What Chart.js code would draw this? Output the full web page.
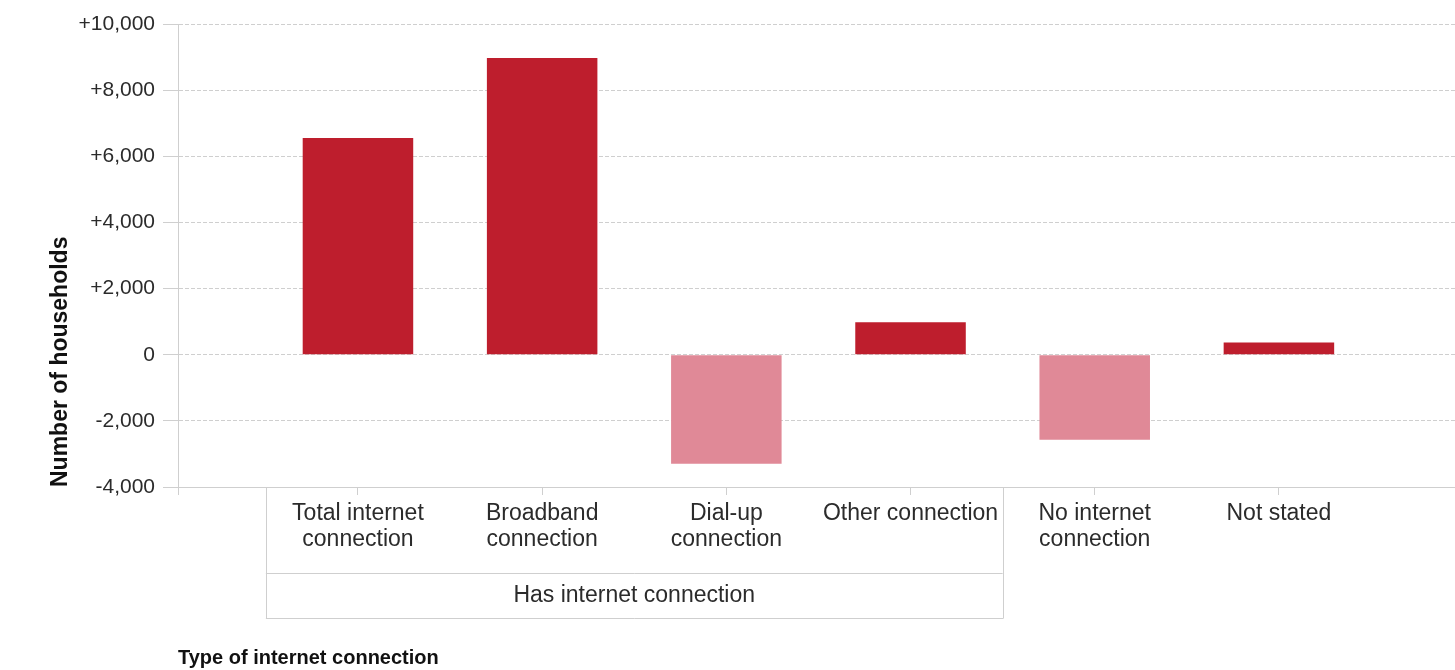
<!DOCTYPE html>
<html lang="en">
<head>
    <meta charset="UTF-8">
    <title>Change in households by type of internet connection</title>
    <script src="https://cdn.jsdelivr.net/npm/chart.js"></script>
    <style>
        body { margin: 0; background: #fff; }
    </style>
</head>
<body>
    <canvas id="netChart" width="1455" height="670"></canvas>

    <script>
        // category labels (multi-line as drawn under the axis)
        const categories = [
            ['Total internet', 'connection'],
            ['Broadband', 'connection'],
            ['Dial-up', 'connection'],
            ['Other connection'],
            ['No internet', 'connection'],
            ['Not stated']
        ];
        const changes = [6550, 8970, -3300, 980, -2570, 370];
        const groupLabel = 'Has internet connection';
        const groupSpan = [0, 3];   // first and last category in the group
        const yTicks = [-4000, -2000, 0, 2000, 4000, 6000, 8000, 10000];

        const FONT = "'Liberation Sans', Arial, sans-serif";
        const RED = '#be1e2d';
        const PINK = '#e08997';
        const LINE = '#cfcfcf';

        const points = changes.map((v, i) => ({ x: i, y: v }));

        // draws the label box under the x axis and the group caption
        const groupBox = {
            id: 'groupBox',
            afterDraw(chart) {
                const { ctx, chartArea } = chart;
                const x = chart.scales.x;
                const top = chartArea.bottom;
                const mid = top + 86;
                const bot = top + 131;
                const left = x.getPixelForValue(groupSpan[0] - 0.5);
                const right = x.getPixelForValue(groupSpan[1] + 0.5);
                ctx.save();
                ctx.strokeStyle = LINE;
                ctx.lineWidth = 1;
                ctx.beginPath();
                ctx.moveTo(Math.round(left) + 0.5, top);
                ctx.lineTo(Math.round(left) + 0.5, bot);
                ctx.moveTo(Math.round(right) + 0.5, top);
                ctx.lineTo(Math.round(right) + 0.5, bot);
                ctx.moveTo(left, mid + 0.5);
                ctx.lineTo(right, mid + 0.5);
                ctx.moveTo(left, bot + 0.5);
                ctx.lineTo(right + 1, bot + 0.5);
                // y axis line runs a little past the x axis
                ctx.moveTo(chartArea.left + 0.5, top);
                ctx.lineTo(chartArea.left + 0.5, top + 8);
                ctx.stroke();
                ctx.fillStyle = '#2b2b2b';
                ctx.font = '23px ' + FONT;
                ctx.textAlign = 'center';
                ctx.textBaseline = 'middle';
                ctx.fillText(groupLabel, (left + right) / 2, (mid + bot) / 2);
                ctx.restore();
            }
        };

        new Chart(document.getElementById('netChart'), {
            type: 'bar',
            data: {
                datasets: [{
                    data: points,
                    backgroundColor: c => (c.raw && c.raw.y < 0) ? PINK : RED,
                    barPercentage: 0.6,
                    categoryPercentage: 1
                }]
            },
            options: {
                responsive: false,
                animation: false,
                devicePixelRatio: 1,
                layout: { padding: { top: 24, left: 0, right: 0, bottom: 0 } },
                plugins: {
                    legend: { display: false },
                    tooltip: { enabled: false }
                },
                scales: {
                    x: {
                        type: 'linear',
                        offset: false,
                        min: -0.977,
                        max: 5.956,
                        afterBuildTicks: s => { s.ticks = categories.map((c, i) => ({ value: i })); },
                        afterFit: s => { s.height = 183; },
                        ticks: {
                            callback: v => categories[v] || '',
                            autoSkip: false,
                            maxRotation: 0,
                            minRotation: 0,
                            padding: 5,
                            color: '#2b2b2b',
                            font: { family: FONT, size: 23, lineHeight: 1.15 }
                        },
                        grid: {
                            offset: false,
                            drawOnChartArea: false,
                            drawTicks: true,
                            tickLength: 8,
                            color: LINE
                        },
                        border: { display: true, color: LINE },
                        title: {
                            display: true,
                            text: 'Type of internet connection',
                            align: 'start',
                            color: '#111',
                            padding: { top: 0, bottom: 0 },
                            font: { family: FONT, size: 20, weight: 'bold' }
                        }
                    },
                    y: {
                        min: -4000,
                        max: 10000,
                        afterBuildTicks: s => { s.ticks = yTicks.map(v => ({ value: v })); },
                        afterFit: s => { s.width = 178; },
                        ticks: {
                            callback: v => (v > 0 ? '+' : '') + v.toLocaleString('en-US'),
                            padding: 8,
                            color: '#2b2b2b',
                            font: { family: FONT, size: 21 }
                        },
                        grid: {
                            color: LINE,
                            tickBorderDash: [],
                            tickLength: 15
                        },
                        border: { display: true, color: LINE, dash: [4, 2] },
                        title: {
                            display: true,
                            text: 'Number of households',
                            align: 'start',
                            color: '#111',
                            padding: { top: 47, bottom: 0 },
                            font: { family: FONT, size: 23, weight: 'bold' }
                        }
                    }
                }
            },
            plugins: [groupBox]
        });
    </script>
</body>
</html>
